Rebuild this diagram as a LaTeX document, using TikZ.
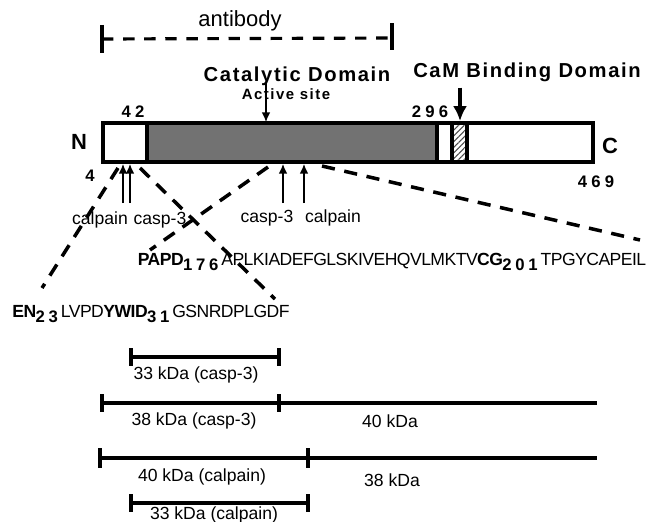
\documentclass[tikz,border=0pt]{standalone}
\usepackage{fontspec}
\setmainfont{Liberation Sans}
\usetikzlibrary{arrows.meta, patterns.meta}
\definecolor{grisDominio}{HTML}{727272}
\definecolor{grisRayado}{HTML}{4A4A4A}
\newcommand{\subnum}[1]{\raisebox{-0.5ex}{\fontsize{9.5}{10}\selectfont\bfseries\addfontfeature{LetterSpace=22}#1}}

\begin{document}
\begin{tikzpicture}[x=0.02cm, y=-0.02cm,
        dom/.style={font=\bfseries\fontsize{11.5}{13}\selectfont\addfontfeature{LetterSpace=8}},
        num/.style={font=\bfseries\fontsize{9.5}{11}\selectfont\addfontfeature{LetterSpace=25}},
        enz/.style={font=\fontsize{10}{12}\selectfont},
        seq/.style={font=\fontsize{10}{12}\selectfont\addfontfeature{LetterSpace=-3}, inner sep=0pt},
        seg/.style={draw, line width=1.9pt},
        corte/.style={-{Latex[length=5.5pt,width=5pt]}, line width=0.8pt},
        zoomline/.style={line width=2pt, dash pattern=on 7.5pt off 5.5pt},
        frag/.style={line width=2pt},
        tope/.style={line width=2pt}
    ]
        \useasboundingbox (0,0) rectangle (655,521);

        \node[font=\fontsize{12.5}{14}\selectfont] (ab) at (240,21) {antibody};
        \coordinate (abL) at (102,39); \coordinate (abR) at (392,38);
        \draw[line width=1.8pt, dash pattern=on 6.5pt off 5.5pt] (abL) -- (abR);
        \draw[tope] ([yshift=8pt]abL) -- ([yshift=-8pt]abL);
        \draw[tope] ([yshift=8.5pt]abR) -- ([yshift=-7pt]abR);

        \node[dom] (cat) at (297,76) {Catalytic Domain};
        \node[dom] (cam) at (527,72) {CaM Binding Domain};
        \node[num, font=\bfseries\fontsize{8.5}{10}\selectfont\addfontfeature{LetterSpace=10}] (act) at (286,94) {Active site};

        \draw[seg, fill=white] (103,123) rectangle (147,162);
        \draw[seg, fill=grisDominio] (147,123) rectangle (437,162);
        \draw[seg, fill=white] (437,123) rectangle (452,162);
        \draw[seg, pattern={Lines[angle=45,distance=2.3pt,line width=0.6pt]}, pattern color=grisRayado] (452,123) rectangle (467,162);
        \draw[seg] (467,123) rectangle (593,162);

        \node[font=\bfseries\fontsize{12.5}{14}\selectfont] (nt) at (79,142) {N};
        \node[font=\bfseries\fontsize{12.5}{14}\selectfont] (ct) at (610,146) {C};
        \node[num] (n42) at (133,112) {42};
        \node[num] (n296) at (430,112) {296};
        \node[num] (n4) at (90,176) {4};
        \node[num] (n469) at (596,182) {469};

        \coordinate (sitio) at (266,122);
        \draw[corte] (act.north -| sitio) -- (sitio);
        \coordinate (camsitio) at (460,121);
        \draw[line width=2.2pt, -{Latex[length=8.5pt,width=8pt]}] (cam.south -| camsitio) -- (camsitio);

        \node[enz] (cp1) at (100,220) {calpain};
        \node[enz] (cs1) at (160,220) {casp-3};
        \node[enz] (cs2) at (267,218) {casp-3};
        \node[enz] (cp2) at (333,218) {calpain};
        \coordinate (c1) at (123,164); \coordinate (t1) at (123,203);
        \coordinate (c2) at (130,164); \coordinate (t2) at (130,203);
        \coordinate (c3) at (283,164); \coordinate (t3) at (283,203);
        \coordinate (c4) at (304,164); \coordinate (t4) at (304,203);
        \draw[corte] (t1) -- (c1); \draw[corte] (t2) -- (c2);
        \draw[corte] (t3) -- (c3); \draw[corte] (t4) -- (c4);

        \node[seq] (papd) at (392,262) {\textbf{PAPD}\subnum{176}\,APLKIADEFGLSKIVEHQVLMKTV\textbf{CG}\subnum{201}\,TPGYCAPEIL};
        \node[seq] (en) at (151,314) {\textbf{EN}\subnum{23}\,LVPD\textbf{YWID}\subnum{31}\,GSNRDPLGDF};

        \coordinate (z1a) at (118,168); \coordinate (z1b) at (42,288);
        \coordinate (z2a) at (140,168); \coordinate (z2b) at (275,299);
        \coordinate (z3a) at (268,167); \coordinate (z3b) at (150,250);
        \coordinate (z4a) at (322,166); \coordinate (z4b) at (640,240);
        \draw[zoomline] (z1a) -- (z1b);
        \draw[zoomline] (z2a) -- (z2b);
        \draw[zoomline] (z3a) -- (z3b);
        \draw[zoomline] (z4a) -- (z4b);

        \coordinate (f1a) at (131,357); \coordinate (f1b) at (279,357);
        \draw[frag] (f1a) -- (f1b);
        \draw[tope] ([yshift=5pt]f1a) -- ([yshift=-5pt]f1a);
        \draw[tope] ([yshift=5pt]f1b) -- ([yshift=-5pt]f1b);
        \node[enz] (l1) at (196,375) {33 kDa (casp-3)};

        \coordinate (f2a) at (102,403); \coordinate (f2m) at (279,403); \coordinate (f2b) at (597,403);
        \draw[frag] (f2a) -- (f2b);
        \draw[tope] ([yshift=5pt]f2a) -- ([yshift=-5pt]f2a);
        \draw[tope] ([yshift=5pt]f2m) -- ([yshift=-5pt]f2m);
        \node[enz] (l2) at (194,421) {38 kDa (casp-3)};
        \node[enz] (l3) at (390,421) {40 kDa};

        \coordinate (f3a) at (100,458); \coordinate (f3m) at (308,458); \coordinate (f3b) at (597,458);
        \draw[frag] (f3a) -- (f3b);
        \draw[tope] ([yshift=5.5pt]f3a) -- ([yshift=-5.5pt]f3a);
        \draw[tope] ([yshift=5.5pt]f3m) -- ([yshift=-5.5pt]f3m);
        \node[enz] (l4) at (202,477) {40 kDa (calpain)};
        \node[enz] (l5) at (392,480) {38 kDa};

        \coordinate (f4a) at (131,503); \coordinate (f4b) at (308,503);
        \draw[frag] (f4a) -- (f4b);
        \draw[tope] ([yshift=5pt]f4a) -- ([yshift=-5pt]f4a);
        \draw[tope] ([yshift=5pt]f4b) -- ([yshift=-5pt]f4b);
        \node[enz] (l6) at (214,515) {33 kDa (calpain)};
    \end{tikzpicture}
\end{document}
